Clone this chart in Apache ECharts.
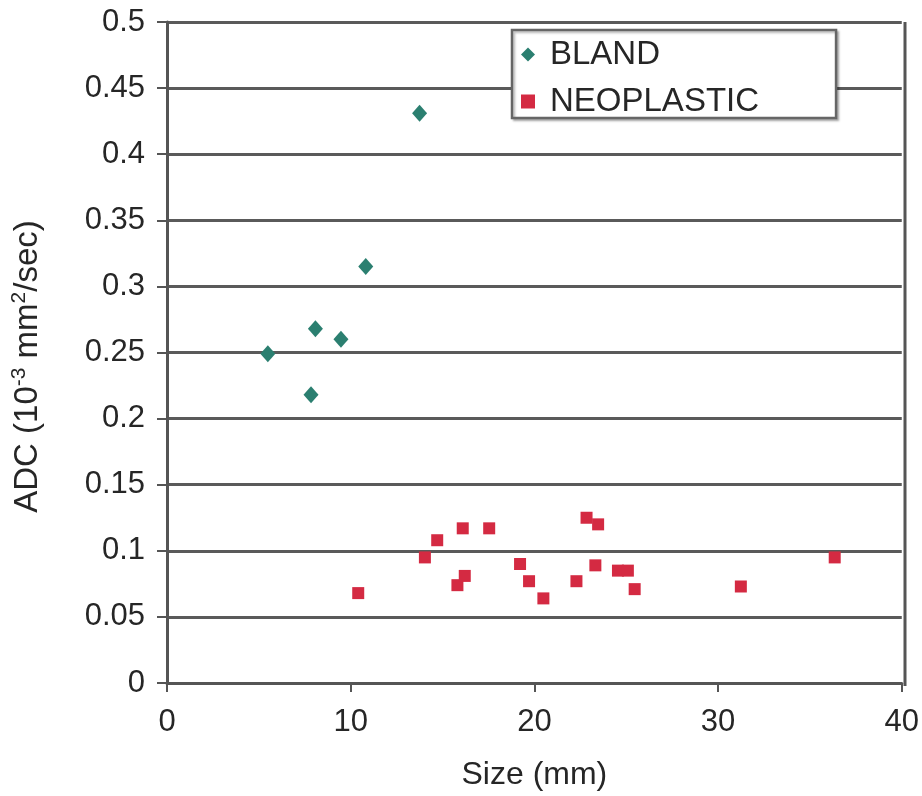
<!DOCTYPE html>
<html>
<head>
<meta charset="utf-8">
<script src="https://cdn.jsdelivr.net/npm/echarts@6/dist/echarts.min.js"></script>
<style>
html,body{margin:0;padding:0;background:#fff;}
#c{width:922px;height:796px;}
</style>
</head>
<body>
<div id="c"></div>
<script>
// Data
var blandSize = [13.75, 10.82, 8.08, 9.47, 5.49, 7.84];
var blandADC  = [0.431, 0.315, 0.268, 0.260, 0.249, 0.218];
var neoSize = [10.41, 14.04, 14.71, 16.10, 17.54, 15.81, 16.21, 19.22, 19.71, 20.49, 22.29, 22.84, 23.47, 23.32, 24.55, 25.09, 25.46, 31.24, 36.35];
var neoADC  = [0.068, 0.095, 0.108, 0.117, 0.117, 0.074, 0.081, 0.090, 0.077, 0.064, 0.077, 0.125, 0.120, 0.089, 0.085, 0.085, 0.071, 0.073, 0.095];
var seriesNames = ['BLAND', 'NEOPLASTIC'];
var xTicks = [0, 10, 20, 30, 40];
var yTicks = [0, 0.05, 0.1, 0.15, 0.2, 0.25, 0.3, 0.35, 0.4, 0.45, 0.5];

function pairs(xs, ys) { return xs.map(function (x, i) { return [x, ys[i]]; }); }

var FONT = '"Liberation Sans", Arial, sans-serif';
var TXT = '#262626';
var chart = echarts.init(document.getElementById('c'), null, {renderer: 'canvas'});
chart.setOption({
  animation: false,
  backgroundColor: '#fff',
  textStyle: {fontFamily: FONT},
  grid: {left: 167, right: 17, top: 22, bottom: 110, show: false},
  legend: {
    orient: 'vertical',
    left: 512, top: 30,
    padding: [8, 77, 0, 9],
    itemWidth: 14, itemHeight: 14, itemGap: 14,
    backgroundColor: '#fff',
    borderColor: '#666', borderWidth: 2.5,
    shadowColor: 'rgba(0,0,0,0.25)', shadowOffsetX: 2, shadowOffsetY: 2, shadowBlur: 2,
    textStyle: {fontSize: 33, color: TXT, fontFamily: FONT, lineHeight: 28, padding: [0, 0, 0, 10]},
    data: seriesNames
  },
  xAxis: {
    type: 'value', min: 0, max: 40, interval: 10,
    name: 'Size (mm)', nameLocation: 'middle', nameGap: 76,
    nameTextStyle: {fontSize: 32, color: TXT, fontFamily: FONT},
    axisLine: {show: true, lineStyle: {color: '#555', width: 3}},
    axisTick: {show: true, length: 9, lineStyle: {color: '#555', width: 2}},
    axisLabel: {fontSize: 31, color: TXT, margin: 24, fontFamily: FONT,
      formatter: function (v) { return xTicks.indexOf(v) >= 0 ? String(v) : ''; }},
    splitLine: {show: false}
  },
  yAxis: {
    type: 'value', min: 0, max: 0.5, interval: 0.05,
    name: '{a|ADC (10}{s|-3}{a| mm}{s|2}{a|/sec)}',
    nameLocation: 'middle', nameGap: 120,
    nameTextStyle: {
      fontSize: 33, color: TXT, fontFamily: FONT, padding: [0, 28, 0, 0],
      rich: {
        a: {fontSize: 33, color: TXT, fontFamily: FONT, lineHeight: 38},
        s: {fontSize: 21, color: TXT, fontFamily: FONT, lineHeight: 38, verticalAlign: 'top', padding: [0, 0, 13, 0]}
      }
    },
    axisLine: {show: true, lineStyle: {color: '#555', width: 3}},
    axisTick: {show: true, length: 10, lineStyle: {color: '#555', width: 2}},
    axisLabel: {fontSize: 31, color: TXT, margin: 22, fontFamily: FONT,
      formatter: function (v) {
        var t = yTicks.filter(function (k) { return Math.abs(k - v) < 1e-9; });
        return t.length ? String(t[0]) : '';
      }},
    splitLine: {show: true, lineStyle: {color: '#5a5a5a', width: 3}}
  },
  graphic: [{
    type: 'line', z: 100,
    shape: {x1: 905, y1: 22, x2: 905, y2: 686},
    style: {stroke: '#555', lineWidth: 3}
  }],
  series: [
    {
      name: seriesNames[0], type: 'scatter', symbol: 'diamond', symbolSize: [15, 17],
      itemStyle: {color: '#2b7f70', opacity: 1},
      data: pairs(blandSize, blandADC), z: 5
    },
    {
      name: seriesNames[1], type: 'scatter', symbol: 'rect', symbolSize: 12,
      itemStyle: {color: '#d42a42', opacity: 1},
      data: pairs(neoSize, neoADC), z: 5
    }
  ]
});
</script>
</body>
</html>
